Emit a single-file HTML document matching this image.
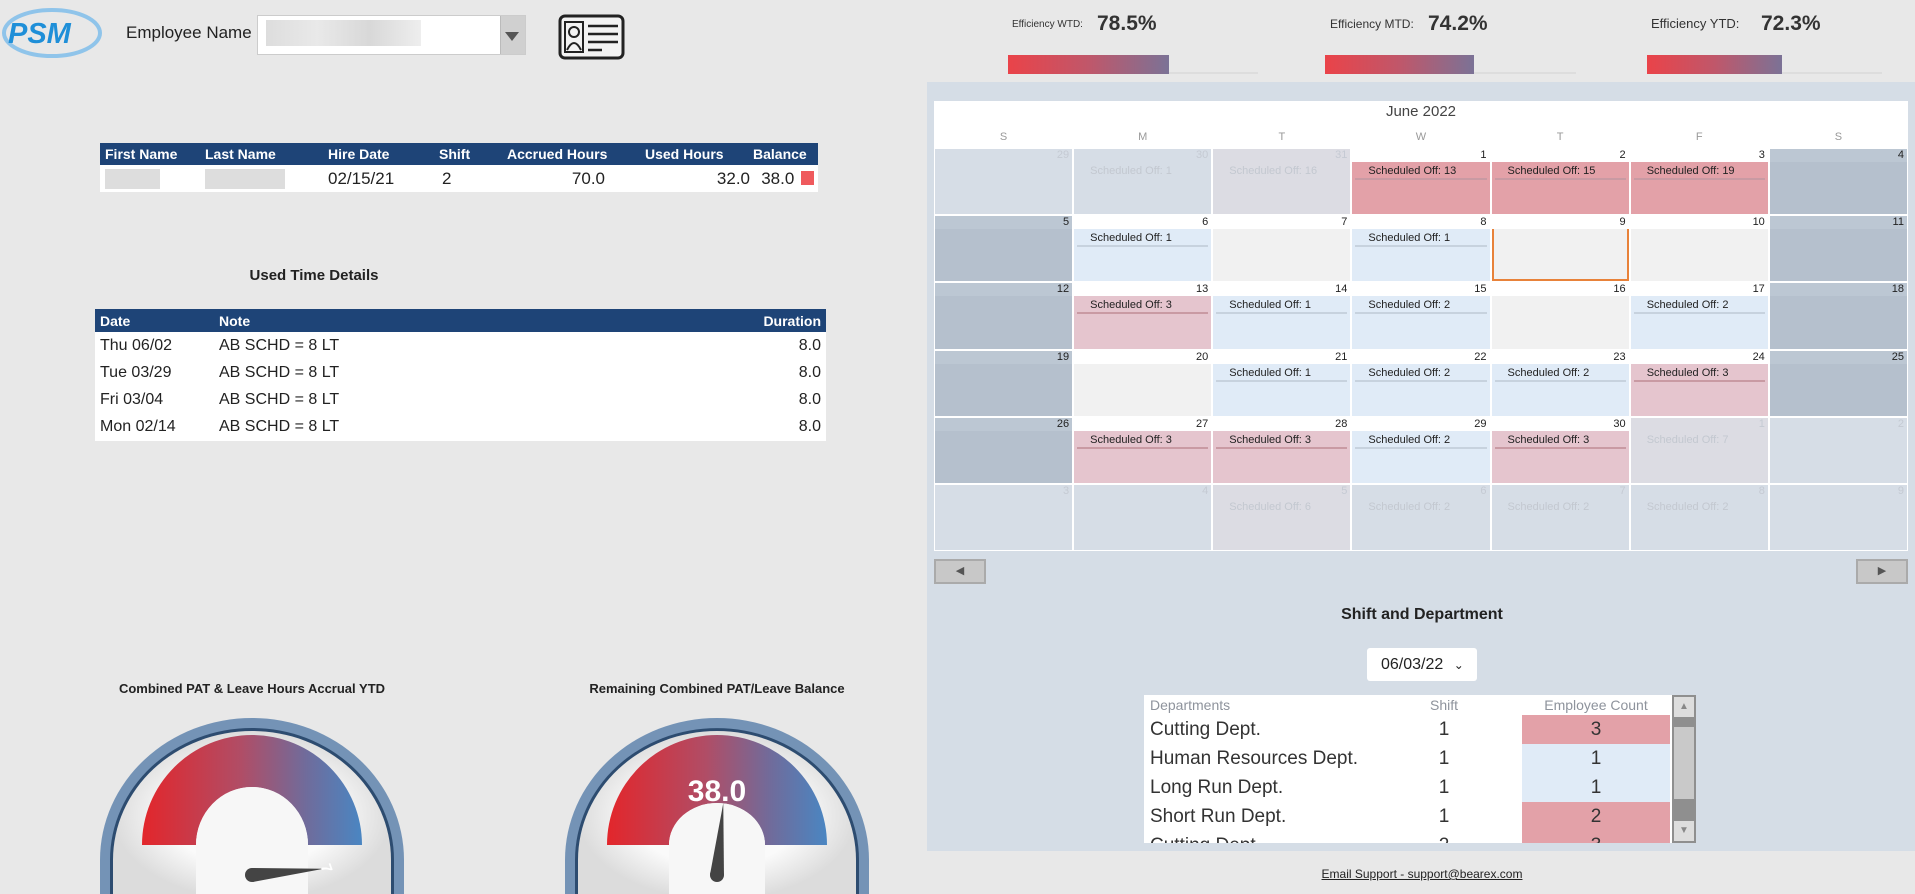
<!DOCTYPE html>
<html><head><meta charset="utf-8">
<style>
*{box-sizing:border-box;margin:0;padding:0}
body{width:1915px;height:894px;overflow:hidden;background:#e8e8e8;font-family:"Liberation Sans",Arial,sans-serif;position:relative;color:#222}
.a{position:absolute;white-space:nowrap}
table{border-collapse:collapse}
td{white-space:nowrap}
.hdr{background:#1e4477;color:#fff;font-weight:bold}
</style></head><body>

<svg class="a" style="left:0;top:6px" width="108" height="54" viewBox="0 0 108 54">
<ellipse cx="52" cy="27" rx="48" ry="23" fill="none" stroke="#8fc4ea" stroke-width="4"/>
<text x="8" y="37" font-family="Liberation Sans" font-weight="bold" font-style="italic" font-size="29" fill="#1f8fd8">PSM</text>
</svg>
<div class="a" style="left:126px;top:23px;font-size:17px">Employee Name</div>
<div class="a" style="left:257px;top:15px;width:269px;height:40px;background:#fff;border:1px solid #ccc">
 <div style="position:absolute;left:8px;top:4px;width:155px;height:26px;background:linear-gradient(90deg,#ddd,#e9e9e9,#d8d8d8,#eee)"></div>
 <div style="position:absolute;right:0;top:0;width:25px;height:38px;background:#d0d0d0;border-left:1px solid #bbb"></div>
 <div style="position:absolute;right:6px;top:16px;border:7px solid transparent;border-top:9px solid #555;border-bottom:0"></div>
</div>
<svg class="a" style="left:558px;top:14px" width="67" height="46" viewBox="0 0 67 46">
<rect x="2" y="2" width="63" height="42" rx="5" fill="#f3f3f3" stroke="#222" stroke-width="3"/>
<rect x="7" y="8" width="18" height="30" fill="none" stroke="#222" stroke-width="2"/>
<circle cx="16" cy="18" r="5" fill="none" stroke="#222" stroke-width="2"/>
<path d="M9 36 q7 -14 14 0" fill="none" stroke="#222" stroke-width="2"/>
<path d="M30 12h30M30 20h30M30 28h30M30 36h14" stroke="#222" stroke-width="2.5"/>
</svg>

<table class="a" style="left:100px;top:143px;width:718px;font-size:14px">
<tr class="hdr" style="height:22px"><td style="padding-left:5px">First Name</td><td>Last Name</td><td>Hire Date</td><td>Shift</td><td>Accrued Hours</td><td>Used Hours</td><td>Balance</td></tr>
<tr style="background:#fff;height:27px;font-size:17px">
<td style="padding-left:5px;width:105px"><div style="width:55px;height:20px;background:#ddd"></div></td>
<td style="width:123px"><div style="width:80px;height:20px;background:#ddd"></div></td>
<td style="width:111px">02/15/21</td><td style="width:68px;padding-left:3px">2</td>
<td style="width:138px;text-align:right;padding-right:40px">70.0</td>
<td style="width:108px;text-align:right;padding-right:3px">32.0</td>
<td style="text-align:right;padding-right:4px">38.0 <span style="display:inline-block;width:13px;height:14px;background:#ef5a5d;vertical-align:-1px;margin-left:2px"></span></td></tr>
</table>

<div class="a" style="left:214px;top:267px;width:200px;text-align:center;font-size:15px;font-weight:bold">Used Time Details</div>
<table class="a" style="left:95px;top:309px;width:731px;font-size:16px">
<tr class="hdr" style="height:23px;font-size:14px"><td style="padding-left:5px;width:124px">Date</td><td>Note</td><td style="text-align:right;padding-right:5px">Duration</td></tr>
<tr style="background:#fff;height:27px"><td style="padding-left:5px">Thu 06/02</td><td>AB SCHD = 8 LT</td><td style="text-align:right;padding-right:5px">8.0</td></tr>
<tr style="background:#fff;height:27px"><td style="padding-left:5px">Tue 03/29</td><td>AB SCHD = 8 LT</td><td style="text-align:right;padding-right:5px">8.0</td></tr>
<tr style="background:#fff;height:27px"><td style="padding-left:5px">Fri 03/04</td><td>AB SCHD = 8 LT</td><td style="text-align:right;padding-right:5px">8.0</td></tr>
<tr style="background:#fff;height:28px"><td style="padding-left:5px">Mon 02/14</td><td>AB SCHD = 8 LT</td><td style="text-align:right;padding-right:5px">8.0</td></tr>
</table>

<div class="a" style="left:60px;top:681px;width:384px;text-align:center;font-size:13px;font-weight:bold">Combined PAT &amp; Leave Hours Accrual YTD</div>
<div class="a" style="left:525px;top:681px;width:384px;text-align:center;font-size:13px;font-weight:bold">Remaining Combined PAT/Leave Balance</div>
<svg class="a" id="gauges" style="left:0;top:700px" width="920" height="194"></svg>

<div class="a" style="left:927px;top:82px;width:988px;height:769px;background:#d5dde6"></div>
<div class="a" id="eff"></div>

<div class="a" style="left:934px;top:101px;width:974px;height:450px;background:#fff"></div>
<div class="a" style="left:934px;top:103px;width:974px;text-align:center;font-size:15px;color:#444">June 2022</div>
<div class="a" id="cal"></div>
<div class="a" style="left:934px;top:559px;width:52px;height:25px;background:#c8c8c8;border:2px solid #aaa;font-size:11px;color:#555;text-align:center;line-height:21px">&#9664;</div>
<div class="a" style="left:1856px;top:559px;width:52px;height:25px;background:#c8c8c8;border:2px solid #aaa;font-size:11px;color:#555;text-align:center;line-height:21px">&#9654;</div>

<div class="a" style="left:1272px;top:606px;width:300px;text-align:center;font-size:16px;font-weight:bold">Shift and Department</div>
<div class="a" style="left:1367px;top:648px;width:110px;height:33px;background:#fff;border-radius:3px;font-size:16px;line-height:33px;padding-left:14px">06/03/22 <span style="font-size:12px;margin-left:6px">&#8964;</span></div>

<div class="a" style="left:1144px;top:695px;width:528px;height:148px;background:#fff;overflow:hidden">
<div id="dept"></div></div>
<div class="a" style="left:1672px;top:695px;width:24px;height:148px;background:#8f8f8f">
<div style="position:absolute;left:2px;top:2px;width:20px;height:20px;background:#ddd;font-size:10px;color:#888;text-align:center;line-height:20px">&#9650;</div>
<div style="position:absolute;left:2px;top:32px;width:20px;height:72px;background:#c9c9c9"></div>
<div style="position:absolute;left:2px;bottom:2px;width:20px;height:20px;background:#ddd;font-size:10px;color:#888;text-align:center;line-height:20px">&#9660;</div>
</div>
<div class="a" style="left:1222px;top:867px;width:400px;text-align:center;font-size:12px;text-decoration:underline">Email Support - support@bearex.com</div>

<script>
// Efficiency KPIs
const effLabels=["Efficiency WTD:","Efficiency MTD:","Efficiency YTD:"];
const effValues=[78.5,74.2,72.3];
const effNames=["wtd","mtd","ytd"];
(function(){
 const lx=[1012,1330,1651],vx=[1097,1428,1761],ls=[10,12,13],bx=[1008,1325,1647],tw=[250,251,235];
 const root=document.getElementById('eff');
 effLabels.forEach((l,i)=>{
  const a=document.createElement('div');a.className='a';
  
  
  a.style.cssText=`left:${lx[i]}px;top:${29-ls[i]}px;font-size:${ls[i]}px;color:#333`;a.textContent=l;root.appendChild(a);
  const v=document.createElement('div');v.className='a';
  
  
  v.style.cssText=`left:${vx[i]}px;top:12px;font-size:21px;font-weight:bold;color:#333`;v.textContent=effValues[i].toFixed(1)+'%';root.appendChild(v);
  const t=document.createElement('div');t.className='a';
  
  
  t.style.cssText=`left:${bx[i]}px;top:72px;width:${tw[i]}px;height:2px;background:#ddd`;root.appendChild(t);
  const b=document.createElement('div');b.className='a';
  
  
  const w=tw[i]*(effValues[i]-20)/91;
  b.style.cssText=`left:${bx[i]}px;top:55px;width:${w.toFixed(0)}px;height:19px;background:linear-gradient(90deg,#ea4349,#c0576a,#7b7296);`;root.appendChild(b);
 });
})();

// Calendar
const dayHeads=["S","M","T","W","T","F","S"];
const calDays=[29,30,31,1,2,3,4, 5,6,7,8,9,10,11, 12,13,14,15,16,17,18, 19,20,21,22,23,24,25, 26,27,28,29,30,1,2, 3,4,5,6,7,8,9];
const calOff=[null,1,16,13,15,19,null, null,1,null,1,null,null,null, null,3,1,2,null,2,null, null,null,1,2,2,3,null, null,3,3,2,3,7,null, null,null,6,2,2,2,null];
const calMonth=[0,0,0,1,1,1,1, 1,1,1,1,1,1,1, 1,1,1,1,1,1,1, 1,1,1,1,1,1,1, 1,1,1,1,1,0,0, 0,0,0,0,0,0,0];
(function(){
 const root=document.getElementById('cal');
 const x0=934,y0=148,cw=139.14,rh=67.2;
 dayHeads.forEach((h,i)=>{
  const d=document.createElement('div');d.className='a';
  
  
  d.style.cssText=`left:${x0+i*cw}px;top:131px;width:${cw}px;text-align:center;font-size:11px;color:#999`;d.textContent=h;root.appendChild(d);
 });
 calDays.forEach((day,i)=>{
  const r=Math.floor(i/7),c=i%7,inM=calMonth[i],off=calOff[i];
  const wk=(c==0||c==6);
  let bg,top;
  if(!inM){bg=(off&&off>=5)?'#dcdce3':'#d6dde6';top=bg;}
  else if(wk){bg='#b5c0cd';top='#bcc7d3';}
  else if(off==null){bg='#f1f1f1';top='#fff';}
  else if(off>=10){bg='#e3a1a8';top='#fff';}
  else if(off>=3){bg='#e5c5ce';top='#fff';}
  else {bg='#e0ebf7';top='#fff';}
  const cell=document.createElement('div');cell.className='a';
  
  
  const today=(inM&&day==9);
  cell.style.cssText=`left:${x0+c*cw+1}px;top:${y0+r*rh+1}px;width:${cw-2}px;height:${rh-2}px;background:${bg};${today?'outline:2px solid #e8823a;outline-offset:-2px;':''}`;
  const tp=document.createElement('div');
  tp.style.cssText=`position:absolute;left:0;top:0;right:0;height:13px;background:${top};text-align:right;padding-right:3px;font-size:11px;line-height:13px;color:${inM?'#222':'#c5cad3'}`;
  tp.textContent=day;cell.appendChild(tp);
  if(off!=null&&!wk){
   const lb=document.createElement('div');
   
   
   lb.style.cssText=`position:absolute;left:16px;top:16px;font-size:11px;white-space:nowrap;color:${inM?'#222':'#c3c8d0'}`;
   lb.textContent='Scheduled Off: '+off;cell.appendChild(lb);
   if(inM){const u=document.createElement('div');
   u.style.cssText=`position:absolute;left:3px;right:3px;top:29px;height:2px;background:${off>=3?'#c99aa3':'#c7d2de'}`;cell.appendChild(u);}
  }
  root.appendChild(cell);
 });
})();

// Department table
const deptNames=["Cutting Dept.","Human Resources Dept.","Long Run Dept.","Short Run Dept.","Cutting Dept."];
const deptShift=[1,1,1,1,2];
const deptCount=[3,1,1,2,3];
(function(){
 const root=document.getElementById('dept');
 const h=document.createElement('div');
 
 
 h.style.cssText='position:relative;height:20px;font-size:14px;color:#8e939c';
 h.innerHTML='<span style="position:absolute;left:6px;top:2px">Departments</span><span style="position:absolute;left:286px;top:2px">Shift</span><span style="position:absolute;left:378px;width:148px;text-align:center;top:2px">Employee Count</span>';
 root.appendChild(h);
 deptNames.forEach((n,i)=>{
  const row=document.createElement('div');
  
  
  const bg=deptCount[i]>=2?'#e3a1a8':'#e0ebf7';
  row.style.cssText='position:relative;height:29px;font-size:19px;color:#333;white-space:nowrap';
  row.innerHTML=`<span style="position:absolute;left:6px;top:4px">${n}</span><span style="position:absolute;left:270px;width:60px;text-align:center;top:4px">${deptShift[i]}</span><span style="position:absolute;left:378px;width:148px;height:29px;background:${bg};text-align:center;padding-top:4px">${deptCount[i]}</span>`;
  root.appendChild(row);
 });
})();

// Gauges
const gaugeNames=["accrual-gauge","balance-gauge"];
const gaugeValues=[70.0,38.0];
const gaugeMax=[72,72];
(function(){
 const svg=document.getElementById('gauges');
 let s=`<defs><linearGradient id="gb" x1="0" x2="1"><stop offset="0" stop-color="#e3262b"/><stop offset="0.45" stop-color="#b04d66"/><stop offset="0.75" stop-color="#6f6c9c"/><stop offset="1" stop-color="#4a86c2"/></linearGradient>
 <radialGradient id="gf"><stop offset="0.6" stop-color="#fafafa"/><stop offset="1" stop-color="#dcdcdc"/></radialGradient></defs>`;
 const cxs=[252,717],irx=[56,48],iry=[58,42];
 gaugeValues.forEach((v,i)=>{
  const cx=cxs[i],cy=160;
  s+=`<g>`;
  s+=`<path d="M${cx-152} 200 V${cy} A152 142 0 0 1 ${cx+152} ${cy} V200 Z" fill="#7493b6"/>`;
  s+=`<path d="M${cx-142} 200 V${cy} A142 132 0 0 1 ${cx+142} ${cy} V200 Z" fill="#2d4c70"/>`;
  s+=`<path d="M${cx-139} 200 V${cy} A139 129 0 0 1 ${cx+139} ${cy} V200 Z" fill="url(#gf)"/>`;
  s+=`<path d="M${cx-110} ${cy-15} A110 110 0 0 1 ${cx+110} ${cy-15} H${cx+irx[i]} A${irx[i]} ${iry[i]} 0 0 0 ${cx-irx[i]} ${cy-15} Z" fill="url(#gb)"/>`;
  s+=`<path d="M${cx-irx[i]} 200 V${cy-15} A${irx[i]} ${iry[i]} 0 0 1 ${cx+irx[i]} ${cy-15} V200 Z" fill="#f7f7f7"/>`;
  const ang=Math.PI*(1-v/gaugeMax[i]);
  const bx=cx,by=cy+15;
  const nx=bx+72*Math.cos(ang),ny=by-72*Math.sin(ang);
  const px=Math.sin(ang)*7,py=Math.cos(ang)*7;
  s+=`<polygon points="${bx+px},${by+py} ${nx},${ny} ${bx-px},${by-py}" fill="#444"/>`;
  s+=`<circle cx="${bx}" cy="${by}" r="7" fill="#444"/>`;
  s+=`</g>`;
 });
 s+=`<text x="326" y="170" font-size="15" font-weight="bold" fill="#fff" transform="rotate(70 326 164)">7</text>`;
 s+=`<text x="717" y="101" text-anchor="middle" font-size="30" font-weight="bold" fill="#fff" font-family="Liberation Sans">${gaugeValues[1].toFixed(1)}</text>`;
 svg.innerHTML=s;
})();
</script>
</body></html>
